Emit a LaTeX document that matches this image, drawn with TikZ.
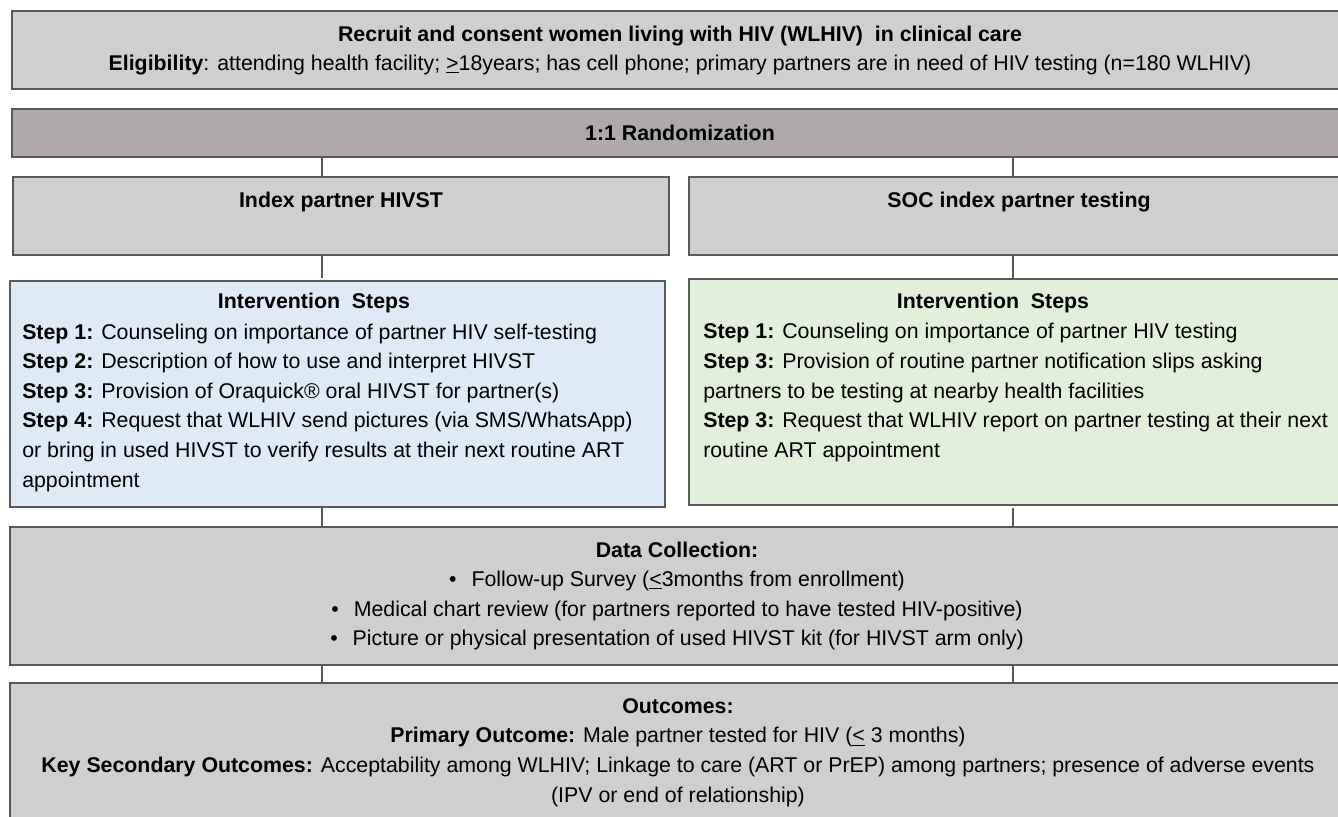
\documentclass[tikz,border=0pt]{standalone}
\usepackage{fontspec}
\setmainfont{Liberation Sans}
\usepackage{tikz}
\definecolor{boxgray}{HTML}{D0CECE}
\definecolor{randgray}{HTML}{AEAAAA}
\definecolor{edgegray}{HTML}{595959}
\definecolor{stepblue}{HTML}{DEEAF6}
\definecolor{stepgreen}{HTML}{E2EFDA}

\begin{document}
\begin{tikzpicture}[x=0.75pt, y=-0.75pt,
	box/.style={draw=edgegray, line width=1.5pt, fill=boxgray, inner sep=0pt},
	wire/.style={draw=edgegray, line width=1pt},
	txt/.style={font=\fontsize{16}{22.2}\selectfont, inner sep=0pt, align=center}]
	\useasboundingbox (0,0) rectangle (1338,817);
	\coordinate (colA) at (322,0);
	\coordinate (colB) at (1013,0);
	\node[box, minimum width=997.5pt, minimum height=58.5pt] (recruit) at (677,50) {};
	\node[box, fill=randgray, minimum width=997.5pt, minimum height=36pt] (rand) at (677,133) {};
	\node[box, minimum width=492pt, minimum height=58.5pt] (armA) at (341,216) {};
	\node[box, minimum width=489.75pt, minimum height=58.5pt] (armB) at (1015.5,216) {};
	\node[box, fill=stepblue, minimum width=491.25pt, minimum height=169.5pt] (stepsA) at (337.5,394) {};
	\node[box, fill=stepgreen, minimum width=489.75pt, minimum height=169.5pt] (stepsB) at (1015.5,392) {};
	\node[box, minimum width=999pt, minimum height=103.5pt] (data) at (676,596) {};
	\node[box, minimum width=999pt, minimum height=117.75pt] (outc) at (676,761.5) {};
	% connectors
	\foreach \c in {colA, colB} {
		\draw[wire] (rand.south -| \c) -- (armA.north -| \c);
		\draw[wire] (armA.south -| \c) -- (stepsB.north -| \c);
		\draw[wire] (stepsA.south -| \c) -- (data.north -| \c);
		\draw[wire] (data.south -| \c) -- (outc.north -| \c);
	}
	% texts
	\node[txt] (recruittxt) at (680,50.5) {\textbf{Recruit and consent women living with HIV (WLHIV)\ \ in clinical care}\\
		\textbf{Eligibility}: attending health facility; \underline{>}18years; has cell phone; primary partners are in need of HIV testing (n=180 WLHIV)};
	\node[txt, font=\fontsize{16}{22.2}\selectfont\bfseries] (randtxt) at (680,133) {1:1 Randomization};
	\node[txt, font=\fontsize{16}{22.2}\selectfont\bfseries] (armAtxt) at (341,202) {Index partner HIVST};
	\node[txt, font=\fontsize{16}{22.2}\selectfont\bfseries] (armBtxt) at (1019,202) {SOC index partner testing};
	\node[txt, font=\fontsize{16}{22.2}\selectfont\bfseries] (stepsAtitle) at (314,303) {Intervention\ \ Steps};
	\node[txt, font=\fontsize{16}{22.2}\selectfont\bfseries] (stepsBtitle) at (993,303) {Intervention\ \ Steps};
	\node[txt, align=left, anchor=west] (stepsAtxt) at (22,407.5) {\textbf{Step 1:} Counseling on importance of partner HIV self-testing\\
		\textbf{Step 2:} Description of how to use and interpret HIVST\\
		\textbf{Step 3:} Provision of Oraquick® oral HIVST for partner(s)\\
		\textbf{Step 4:} Request that WLHIV send pictures (via SMS/WhatsApp)\\
		or bring in used HIVST to verify results at their next routine ART\\
		appointment};
	\node[txt, align=left, anchor=west] (stepsBtxt) at (703,392.5) {\textbf{Step 1:} Counseling on importance of partner HIV testing\\
		\textbf{Step 3:} Provision of routine partner notification slips asking\\
		partners to be testing at nearby health facilities\\
		\textbf{Step 3:} Request that WLHIV report on partner testing at their next\\
		routine ART appointment};
	\node[txt] (datatxt) at (677,596) {\textbf{Data Collection:}\\
		\textbullet\hspace{0.7em}Follow-up Survey (\underline{<}3months from enrollment)\\
		\textbullet\hspace{0.7em}Medical chart review (for partners reported to have tested HIV-positive)\\
		\textbullet\hspace{0.7em}Picture or physical presentation of used HIVST kit (for HIVST arm only)};
	\node[txt] (outctxt) at (678,752.5) {\textbf{Outcomes:}\\
		\textbf{Primary Outcome:} Male partner tested for HIV (\underline{<} 3 months)\\
		\textbf{Key Secondary Outcomes:} Acceptability among WLHIV; Linkage to care (ART or PrEP) among partners; presence of adverse events\\
		(IPV or end of relationship)};
\end{tikzpicture}
\end{document}
